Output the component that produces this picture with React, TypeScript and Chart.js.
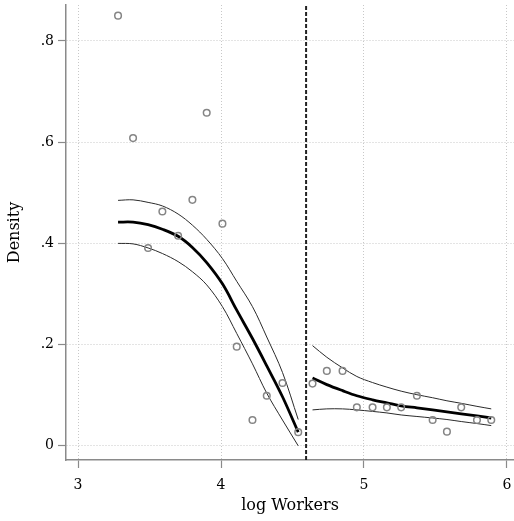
import React, { useEffect, useRef } from "react";
import { Chart, registerables } from "chart.js";

Chart.register(...registerables);

// ---- data ----
const LEFT_X = [3.28, 3.385, 3.49, 3.59, 3.7, 3.8, 3.9, 4.01, 4.11, 4.22, 4.32, 4.43, 4.54];
const LEFT_POINTS = [0.85, 0.608, 0.391, 0.463, 0.415, 0.486, 0.658, 0.439, 0.196, 0.051, 0.099, 0.124, 0.027];
const LEFT_FIT = [0.442, 0.442, 0.437, 0.428, 0.414, 0.392, 0.362, 0.32, 0.268, 0.212, 0.158, 0.097, 0.027];
const LEFT_UPPER = [0.485, 0.486, 0.481, 0.474, 0.458, 0.436, 0.408, 0.37, 0.325, 0.275, 0.215, 0.145, 0.052];
const LEFT_LOWER = [0.4, 0.399, 0.391, 0.38, 0.364, 0.344, 0.318, 0.275, 0.222, 0.162, 0.104, 0.051, 0.0];

const RIGHT_X = [4.64, 4.74, 4.85, 4.95, 5.06, 5.16, 5.26, 5.37, 5.48, 5.58, 5.68, 5.79, 5.89];
const RIGHT_POINTS = [0.123, 0.148, 0.148, 0.076, 0.076, 0.076, 0.076, 0.099, 0.051, 0.028, 0.076, 0.051, 0.051];
const RIGHT_FIT = [0.134, 0.121, 0.109, 0.099, 0.091, 0.085, 0.079, 0.075, 0.071, 0.067, 0.063, 0.059, 0.055];
const RIGHT_UPPER = [0.198, 0.175, 0.154, 0.137, 0.125, 0.116, 0.108, 0.101, 0.095, 0.089, 0.084, 0.078, 0.073];
const RIGHT_LOWER = [0.071, 0.073, 0.073, 0.071, 0.068, 0.065, 0.061, 0.058, 0.055, 0.052, 0.048, 0.044, 0.04];

const CUTOFF = 4.595;

const X_TICKS = [3, 4, 5, 6];
const X_TICK_LABELS = ["3", "4", "5", "6"];
const Y_TICKS = [0, 0.2, 0.4, 0.6, 0.8];
const Y_TICK_LABELS = ["0", ".2", ".4", ".6", ".8"];

const X_MIN = 2.916;
const X_MAX = 6.049;
const Y_MIN = -0.028;
const Y_MAX = 0.871;

const X_TITLE = "log Workers";
const Y_TITLE = "Density";

const zip = (xs: number[], ys: number[]) => xs.map((x, i) => ({ x, y: ys[i] }));

const FONT = "'DejaVu Serif', serif";

export default function App() {
  const ref = useRef<HTMLCanvasElement | null>(null);

  useEffect(() => {
    if (!ref.current) return;
    const thin = {
      borderColor: "#2a2a2a",
      borderWidth: 1,
      pointRadius: 0,
      showLine: true,
      fill: false,
      tension: 0.35,
    };
    const thick = {
      borderColor: "#000000",
      borderWidth: 2.8,
      pointRadius: 0,
      showLine: true,
      fill: false,
      tension: 0.35,
    };
    const pts = {
      borderColor: "#858585",
      backgroundColor: "rgba(0,0,0,0)",
      borderWidth: 1.5,
      pointRadius: 3.3,
      pointStyle: "circle",
      showLine: false,
    };
    const chart = new Chart(ref.current, {
      type: "scatter",
      data: {
        datasets: [
          { ...pts, data: zip(LEFT_X, LEFT_POINTS), order: 0 } as any,
          { ...pts, data: zip(RIGHT_X, RIGHT_POINTS), order: 0 } as any,
          { ...thick, data: zip(LEFT_X, LEFT_FIT), order: 1 } as any,
          { ...thick, data: zip(RIGHT_X, RIGHT_FIT), order: 1 } as any,
          { ...thin, data: zip(LEFT_X, LEFT_UPPER), order: 2 } as any,
          { ...thin, data: zip(LEFT_X, LEFT_LOWER), order: 2 } as any,
          { ...thin, data: zip(RIGHT_X, RIGHT_UPPER), order: 2 } as any,
          { ...thin, data: zip(RIGHT_X, RIGHT_LOWER), order: 2 } as any,
          {
            data: [
              { x: CUTOFF, y: Y_MIN },
              { x: CUTOFF, y: Y_MAX },
            ],
            showLine: true,
            borderColor: "#222222",
            borderWidth: 2,
            borderDash: [4, 2],
            pointRadius: 0,
            order: 3,
          } as any,
        ],
      },
      options: {
        animation: false,
        responsive: false,
        events: [],
        layout: { autoPadding: false, padding: { top: 5, right: 0, left: 0, bottom: 0 } },
        plugins: { legend: { display: false }, tooltip: { enabled: false } },
        scales: {
          x: {
            type: "linear",
            min: X_MIN,
            max: X_MAX,
            afterBuildTicks: (s: any) => {
              s.ticks = X_TICKS.map((v) => ({ value: v }));
            },
            afterFit: (s: any) => {
              s.height = 61;
              s.paddingLeft = 0;
              s.paddingRight = 0;
            },
            ticks: {
              callback: (v: any) => X_TICK_LABELS[X_TICKS.indexOf(Number(v))] ?? "",
              color: "#000",
              font: { family: FONT, size: 14 },
              padding: 9,
              maxRotation: 0,
            },
            grid: {
              color: "#c8c8c8",
              lineWidth: 1,
              tickColor: "#8a8a8a",
              tickLength: 8,
              tickWidth: 1.2,
            },
            border: { color: "#8a8a8a", width: 1.5, dash: [1, 2] },
            title: {
              display: true,
              text: X_TITLE,
              color: "#000",
              font: { family: FONT, size: 16 },
              padding: { top: 0, bottom: 6 },
            },
          },
          y: {
            type: "linear",
            min: Y_MIN,
            max: Y_MAX,
            afterBuildTicks: (s: any) => {
              s.ticks = Y_TICKS.map((v) => ({ value: v }));
            },
            afterFit: (s: any) => {
              s.width = 66;
              s.paddingTop = 0;
              s.paddingBottom = 0;
            },
            ticks: {
              callback: (v: any) => {
                const i = Y_TICKS.findIndex((t) => Math.abs(t - Number(v)) < 1e-9);
                return i >= 0 ? Y_TICK_LABELS[i] : "";
              },
              color: "#000",
              font: { family: FONT, size: 14 },
              padding: 4,
            },
            grid: {
              color: "#c8c8c8",
              lineWidth: 1,
              tickColor: "#8a8a8a",
              tickLength: 8,
              tickWidth: 1.2,
            },
            border: { color: "#8a8a8a", width: 1.5, dash: [1, 2] },
            title: {
              display: true,
              text: Y_TITLE,
              color: "#000",
              font: { family: FONT, size: 16 },
              padding: { top: 5, bottom: 0 },
            },
          },
        },
      },
    });
    return () => chart.destroy();
  }, []);

  return (
    <div style={{ position: "fixed", left: 0, top: 0, width: 514, height: 521, background: "#fff" }}>
      <canvas ref={ref} width={514} height={521} style={{ display: "block" }} />
    </div>
  );
}
